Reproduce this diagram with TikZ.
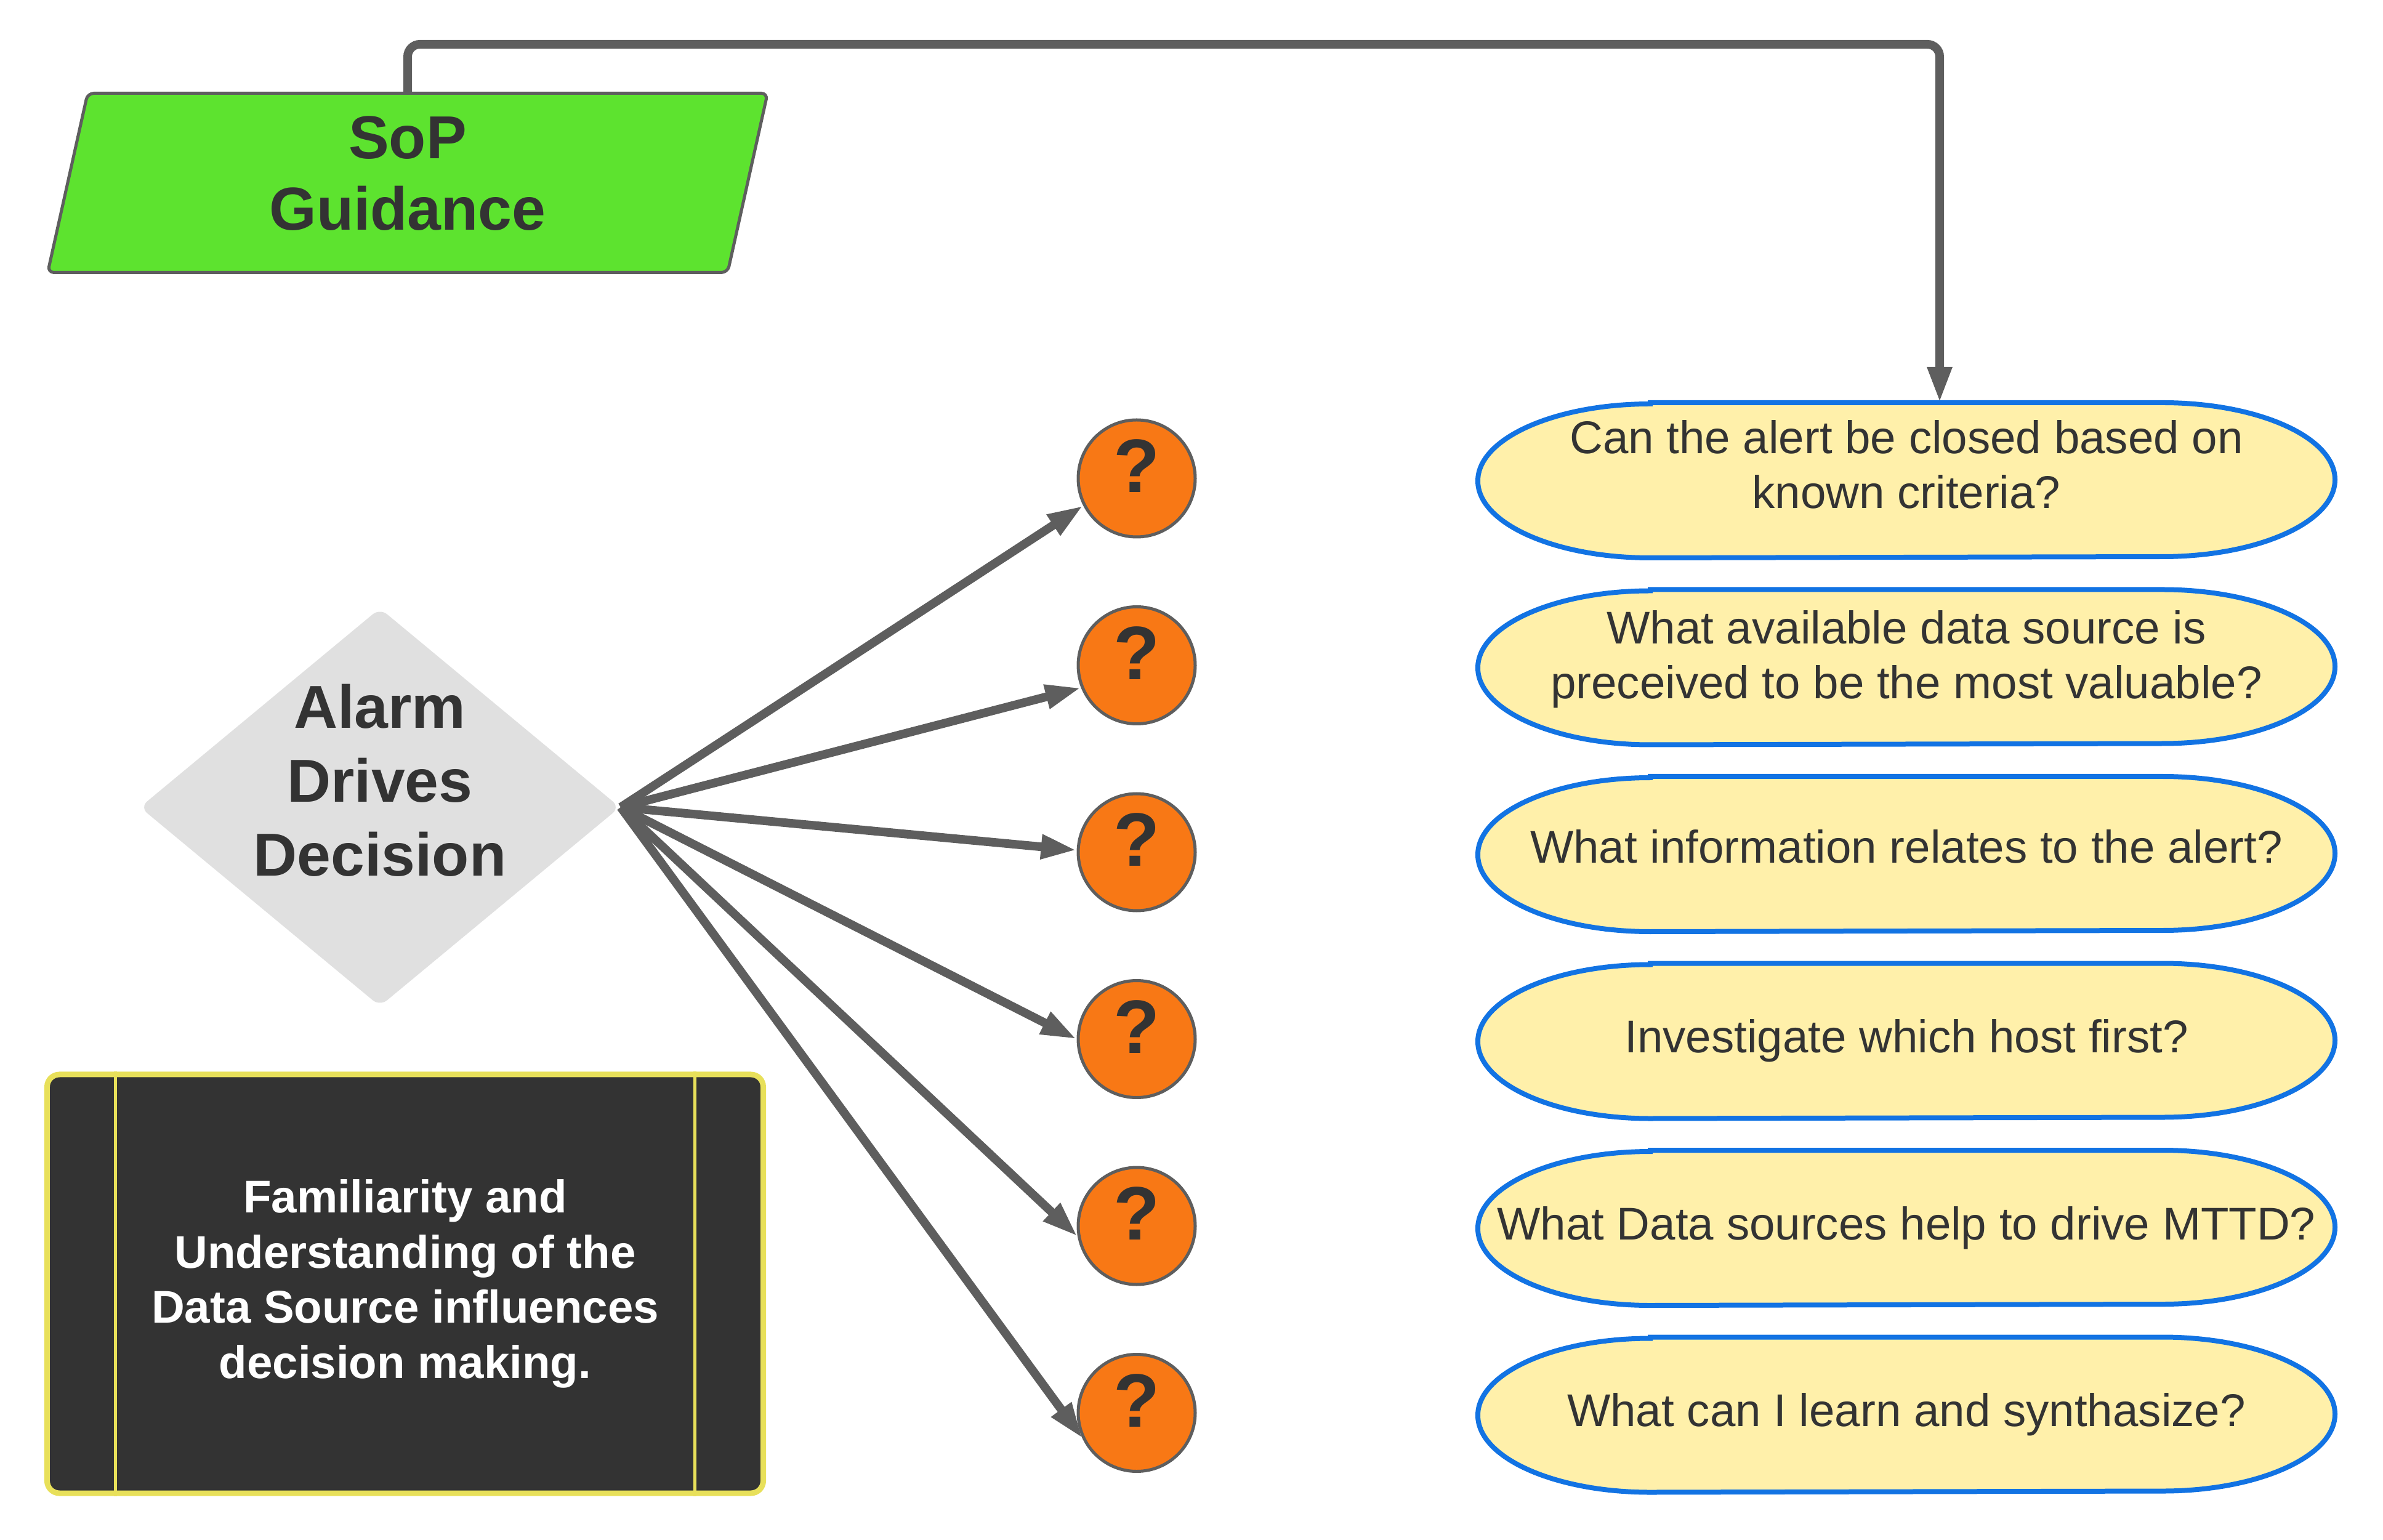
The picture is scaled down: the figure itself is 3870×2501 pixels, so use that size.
\documentclass[tikz,border=0pt]{standalone}
\usepackage{fontspec}
\setmainfont{Liberation Sans}
\usetikzlibrary{shapes.geometric,arrows.meta,backgrounds}

\definecolor{linegray}{HTML}{5E5E5E}
\definecolor{textdark}{HTML}{333333}
\definecolor{sopgreen}{HTML}{5DE32F}
\definecolor{diamondgray}{HTML}{E0E0E0}
\definecolor{qorange}{HTML}{F87815}
\definecolor{qyellow}{HTML}{FFF0AA}
\definecolor{qblue}{HTML}{1273E3}
\definecolor{noteyellow}{HTML}{E8E05A}

\begin{document}
\begin{tikzpicture}[x=0.2pt, y=0.2pt, node distance=60.7pt,
        link/.style = {draw=linegray, line width=2.8pt, -{Triangle[length=11.6pt, width=7.4pt]}},
        guide/.style = {trapezium, trapezium left angle=75, trapezium right angle=105, trapezium stretches body=true, minimum width=233.8pt, minimum height=58.2pt, inner sep=0pt, draw=linegray, line width=1pt, fill=sopgreen, rounded corners=2pt, text=textdark, font=\fontsize{19.7}{23.2}\selectfont\bfseries},
        decide/.style = {diamond, minimum width=156pt, minimum height=129.4pt, inner sep=-15pt, fill=diamondgray, rounded corners=3pt, text=textdark, font=\fontsize{19.7}{24}\selectfont\bfseries},
        qmark/.style = {circle, minimum size=38pt, inner sep=0pt, draw=linegray, line width=1pt, fill=qorange, text=textdark, font=\fontsize{24.6}{28}\selectfont\bfseries},
        question/.style = {rectangle, minimum width=278pt, minimum height=50pt, align=center, text=textdark, font=\fontsize{14.9}{17.8}\selectfont},
        stadium/.style = {draw=qblue, line width=1.6pt, fill=qyellow},
        notebox/.style = {rectangle, minimum width=232.6pt, minimum height=136pt, draw=noteyellow, line width=1.8pt, fill=textdark, rounded corners=4pt, align=center, text=white, font=\fontsize{14.9}{17.9}\selectfont\bfseries}]

        \useasboundingbox (0,0) rectangle (3870,-2501);

        \node[guide] (sop) at (662,-297) {\begin{tabular}{@{}c@{}}SoP\\Guidance\\[2pt]\end{tabular}};
        \node[decide] (alarm) at (617,-1311) {\begin{tabular}{@{}c@{}}Alarm\\Drives\\Decision\\[13pt]\end{tabular}};
        \node[notebox] (note) at (658,-2085) {Familiarity and\\Understanding of the\\Data Source influences\\decision making.};

        \node[qmark] (c1) at (1846,-777) {\raisebox{8pt}{?}};
        \node[qmark] (c2) [below of = c1] {\raisebox{8pt}{?}};
        \node[qmark] (c3) [below of = c2] {\raisebox{8pt}{?}};
        \node[qmark] (c4) [below of = c3] {\raisebox{8pt}{?}};
        \node[qmark] (c5) [below of = c4] {\raisebox{8pt}{?}};
        \node[qmark] (c6) [below of = c5] {\raisebox{8pt}{?}};

        \node[question] (q1) at (3096,-780) {\begin{tabular}{@{}c@{}}Can the alert be closed based on\\known criteria?\\[6.8pt]\end{tabular}};
        \node[question] (q2) [below of = q1] {\begin{tabular}{@{}c@{}}What available data source is\\preceived to be the most valuable?\\[4.7pt]\end{tabular}};
        \node[question] (q3) [below of = q2] {\begin{tabular}{@{}c@{}}What information relates to the alert?\\[1.2pt]\end{tabular}};
        \node[question] (q4) [below of = q3] {Investigate which host first?};
        \node[question] (q5) [below of = q4] {What Data sources help to drive MTTD?};
        \node[question] (q6) [below of = q5] {What can I learn and synthasize?};

        \begin{scope}[on background layer]
            \foreach \i in {1,...,6}
                \draw[stadium] ([xshift=56pt]q\i.north west) -- ([xshift=-56pt]q\i.north east) arc[start angle=90, end angle=-90, x radius=56pt, y radius=25pt] -- ([xshift=56pt]q\i.south west) arc[start angle=270, end angle=90, x radius=56pt, y radius=25pt] -- cycle;
        \end{scope}

        \draw[noteyellow, line width=1pt] ([xshift=23.2pt]note.north west) -- ([xshift=23.2pt]note.south west);
        \draw[noteyellow, line width=1pt] ([xshift=-23.2pt]note.north east) -- ([xshift=-23.2pt]note.south east);

        \foreach \i/\a in {1/207, 2/202, 3/178, 4/180, 5/190, 6/205}
            \draw[link] (alarm.east) -- (c\i.\a);
        \draw[link, rounded corners=4pt] (sop.center |- sop.north) -- ++(0,77) -| ([xshift=10.8pt]q1.north);

    \end{tikzpicture}
\end{document}
